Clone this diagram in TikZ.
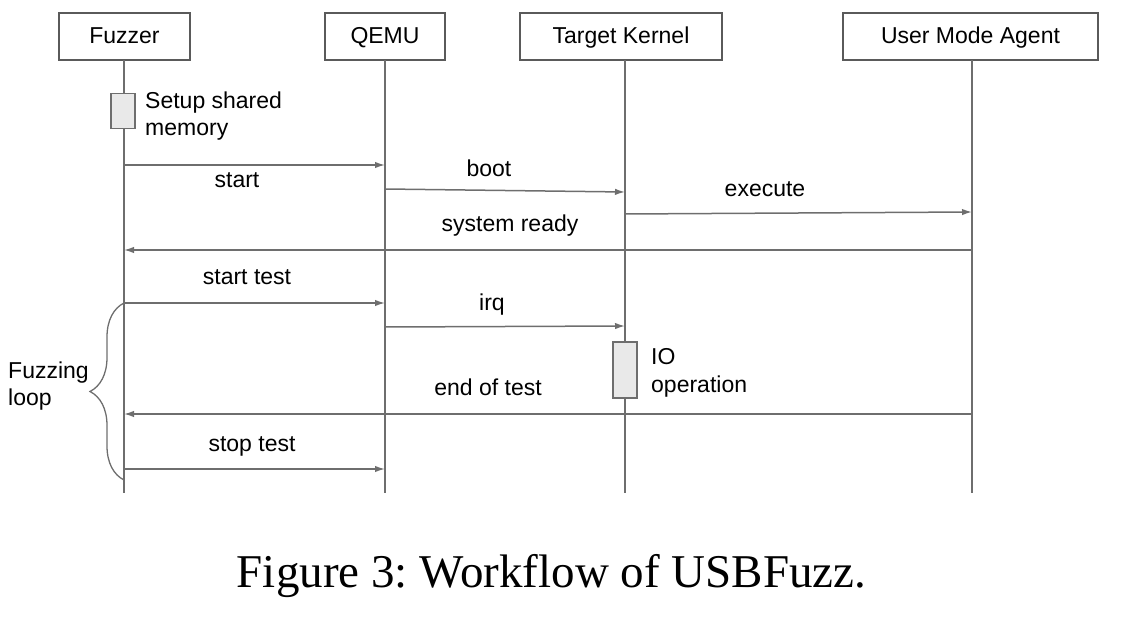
\documentclass[tikz,border=0pt]{standalone}
\usepackage{fontspec}
\setmainfont{Liberation Serif}
\setsansfont{Liberation Sans}
\usetikzlibrary{positioning}
\usetikzlibrary{arrows.meta}
\usetikzlibrary{decorations.pathreplacing}
\definecolor{lifegray}{HTML}{6E6E6E}
\definecolor{boxgray}{HTML}{5A5A5A}
\definecolor{actfill}{HTML}{E9E9E9}
\frenchspacing

\begin{document}
\begin{tikzpicture} [
    x=1pt, y=-1pt,                                    % one unit per reference pixel, y going down
    font=\sffamily\fontsize{23}{27.5}\selectfont,
    ]
% -------------------------------------------------
\tikzset{
  actor/.style={draw=boxgray, line width=1.2pt, minimum height=47pt, inner sep=0pt, text height=16pt, text depth=2pt},
  life/.style={draw=lifegray, line width=1.3pt},
  actbox/.style={draw=lifegray, fill=actfill, line width=1.2pt, minimum width=24pt, inner sep=0pt},
  msg/.style={draw=lifegray, line width=1.5pt, -{Latex[length=10pt,width=6.5pt]}},
  lbl/.style={anchor=base, inner sep=0pt},
  note/.style={align=left, anchor=west, inner sep=0pt}
}
\useasboundingbox (0,0) rectangle (1124,620);

    \node [actor, minimum width=131pt] (fzr) at (124.5,36.5) {Fuzzer};
    \node [actor, minimum width=120pt] (qmu) at (385,36.5) {QEMU};
    \node [actor, minimum width=202pt] (tgk) at (621,36.5) {Target Kernel};
    \node [actor, minimum width=255pt] (uma) at (970.5,36.5) {User Mode Agent};

    % lifelines
    \coordinate (fzrl) at (124,60);
    \coordinate (qmul) at (385,60);
    \coordinate (tgkl) at (625,60);
    \coordinate (umal) at (972,60);
    \draw [life] (fzrl) -- (fzrl |- 0,493);
    \draw [life] (qmul) -- (qmul |- 0,493);
    \draw [life] (tgkl) -- (tgkl |- 0,493);
    \draw [life] (umal) -- (umal |- 0,493);

    \node [actbox, minimum height=35pt] (shm) at (123,111) {};
    \node [note] (shmt) at (145,116) {Setup shared\\memory};
    \node [actbox, minimum height=56pt] (iop) at (625,370) {};
    \node [note] (iopt) at (651,373) {IO\\operation};

    \path [msg] (fzrl |- 0,165) -- (qmul |- 0,165);   % start
    \path [msg] (qmul |- 0,189) -- (tgkl |- 0,192);   % boot
    \path [msg] (tgkl |- 0,214) -- (umal |- 0,212);   % execute
    \path [msg] (umal |- 0,250) -- (fzrl |- 0,250);   % system ready
    \path [msg] (fzrl |- 0,303) -- (qmul |- 0,303);   % start test
    \path [msg] (qmul |- 0,327) -- (tgkl |- 0,326);   % irq
    \path [msg] (umal |- 0,414) -- (fzrl |- 0,414);   % end of test
    \path [msg] (fzrl |- 0,469) -- (qmul |- 0,469);   % stop test

    \node [lbl] (l1) at (237,188) {start};
    \node [lbl] (l2) at (489,177) {boot};
    \node [lbl] (l3) at (765,197) {execute};
    \node [lbl] (l4) at (510,232) {system ready};
    \node [lbl] (l5) at (247,285) {start test};
    \node [lbl] (l6) at (492,310) {irq};
    \node [lbl] (l7) at (488,395) {end of test};
    \node [lbl] (l8) at (252,451) {stop test};

    % fuzzing loop brace
    \draw [draw=lifegray, line width=1.3pt, decorate, decoration={brace, amplitude=34pt}]
        (fzrl |- 0,480) -- (fzrl |- 0,303);
    \node [note] (loop) at (8,386) {Fuzzing\\loop};

    \node [anchor=base, font=\rmfamily\fontsize{47}{56}\selectfont] (cap) at (551.5,587) {Figure 3: Workflow of USBFuzz.};

\end{tikzpicture}
\end{document}
